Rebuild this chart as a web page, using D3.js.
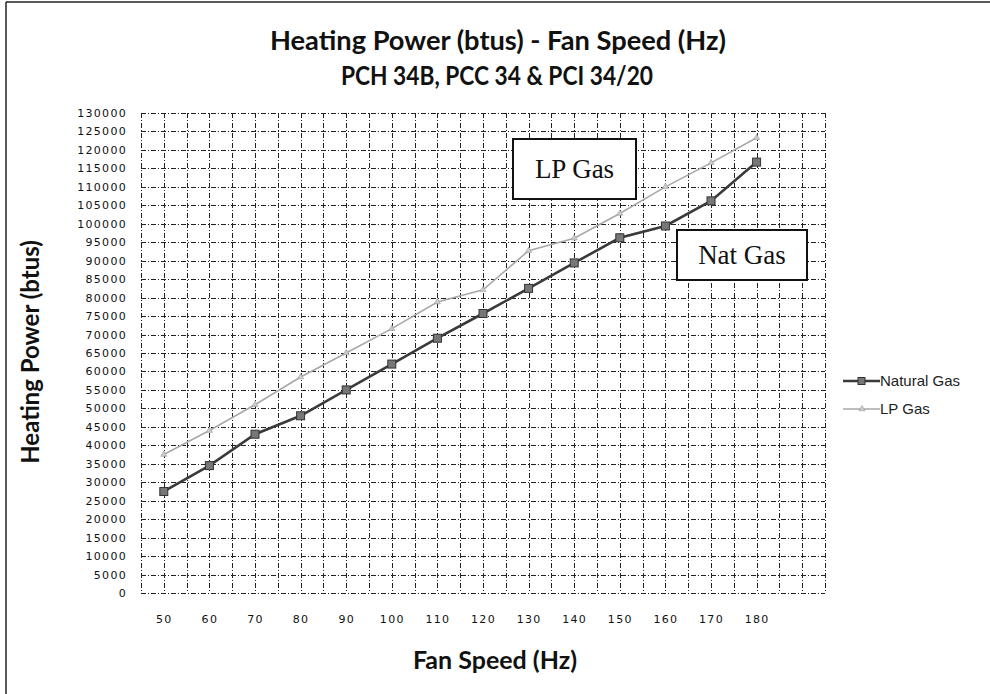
<!DOCTYPE html>
<html>
<head>
<meta charset="utf-8">
<script src="https://cdn.jsdelivr.net/npm/d3@7"></script>
<style>
  html, body { margin: 0; padding: 0; background: #fff; }
  svg { display: block; }
</style>
</head>
<body>
<svg id="chart" width="990" height="694"></svg>
<script>
// Fan speed (Hz) and heating output (btus) for each fuel
const fanSpeed = [50, 60, 70, 80, 90, 100, 110, 120, 130, 140, 150, 160, 170, 180];
const naturalGas = [27500, 34500, 43000, 48000, 55000, 62000, 69000, 75700, 82500, 89400, 96200, 99400, 106200, 116700];
const lpGas = [37500, 44000, 51000, 58500, 65000, 71600, 78800, 82100, 92700, 96100, 102800, 110000, 116500, 123300];
const xTickLabels = [50, 60, 70, 80, 90, 100, 110, 120, 130, 140, 150, 160, 170, 180];
const yTickValues = d3.range(0, 130001, 5000);
const seriesNames = ["Natural Gas", "LP Gas"];

const svg = d3.select("#chart");
const plotLeft = 141, plotRight = 825, plotTop = 113, plotBottom = 593;

const x = d3.scaleLinear().domain([45, 195]).range([plotLeft, plotRight]);
const y = d3.scaleLinear().domain([0, 130000]).range([plotBottom, plotTop]);

// outer frame (top and left edges)
svg.append("line").attr("x1", 6).attr("x2", 990).attr("y1", 2).attr("y2", 2)
  .attr("stroke", "#222").attr("stroke-width", 1.5);
svg.append("line").attr("x1", 6).attr("x2", 6).attr("y1", 2).attr("y2", 694)
  .attr("stroke", "#222").attr("stroke-width", 1.5);

// grid
const grid = svg.append("g").attr("stroke", "#222").attr("stroke-width", 1)
  .attr("stroke-dasharray", "5,2,1,2").attr("fill", "none");
grid.selectAll("line.h").data(yTickValues).join("line").attr("class", "h")
  .attr("x1", plotLeft).attr("x2", plotRight)
  .attr("y1", d => Math.round(y(d)) + 0.5).attr("y2", d => Math.round(y(d)) + 0.5);
grid.selectAll("line.v").data(d3.range(45, 196, 5)).join("line").attr("class", "v")
  .attr("y1", plotTop).attr("y2", plotBottom)
  .attr("x1", d => Math.round(x(d)) + 0.5).attr("x2", d => Math.round(x(d)) + 0.5);

// axes
const yAxis = d3.axisLeft(y).tickValues(yTickValues).tickFormat(d3.format("d"))
  .tickSize(0).tickPadding(14);
const gy = svg.append("g").attr("transform", `translate(${plotLeft},0)`).call(yAxis);
gy.select(".domain").remove();
gy.selectAll("text").attr("font-family", "DejaVu Sans").attr("font-size", 11)
  .attr("letter-spacing", "1.3px").attr("fill", "#111");

const xAxis = d3.axisBottom(x).tickValues(xTickLabels).tickFormat(d3.format("d"))
  .tickSize(0).tickPadding(22);
const gx = svg.append("g").attr("transform", `translate(0,${plotBottom})`).call(xAxis);
gx.select(".domain").remove();
gx.selectAll("text").attr("font-family", "DejaVu Sans").attr("font-size", 11)
  .attr("letter-spacing", "1.3px").attr("fill", "#111");

// series lines
const line = (vals) => d3.line().x((d, i) => x(fanSpeed[i])).y(d => y(d))(vals);

svg.append("path").attr("d", line(lpGas)).attr("fill", "none")
  .attr("stroke", "#a8a8a8").attr("stroke-width", 1.6);
svg.selectAll("path.lpm").data(lpGas).join("path").attr("class", "lpm")
  .attr("d", d3.symbol(d3.symbolTriangle, 16))
  .attr("transform", (d, i) => `translate(${x(fanSpeed[i])},${y(d)})`)
  .attr("fill", "#ccc").attr("stroke", "#999").attr("stroke-width", 0.6);

svg.append("path").attr("d", line(naturalGas)).attr("fill", "none")
  .attr("stroke", "#3a3a3a").attr("stroke-width", 2.6);
svg.selectAll("rect.ngm").data(naturalGas).join("rect").attr("class", "ngm")
  .attr("x", (d, i) => x(fanSpeed[i]) - 4).attr("y", d => y(d) - 4)
  .attr("width", 8).attr("height", 8)
  .attr("fill", "#777").attr("stroke", "#333").attr("stroke-width", 1);

// annotation boxes
function labelBox(cx, cy, w, h, text) {
  svg.append("rect").attr("x", cx - w / 2).attr("y", cy - h / 2)
    .attr("width", w).attr("height", h)
    .attr("fill", "#fff").attr("stroke", "#111").attr("stroke-width", 2);
  svg.append("text").attr("x", cx).attr("y", cy + 9).attr("text-anchor", "middle")
    .attr("font-family", "Liberation Serif").attr("font-size", 27).attr("fill", "#111")
    .text(text);
}
labelBox(574.5, 169, 123, 60, "LP Gas");
labelBox(742, 255, 130, 50, "Nat Gas");

// legend
const lg = svg.append("g").attr("font-family", "Liberation Sans").attr("font-size", 15).attr("fill", "#222");
lg.append("line").attr("x1", 843).attr("x2", 880).attr("y1", 381).attr("y2", 381)
  .attr("stroke", "#3a3a3a").attr("stroke-width", 2.6);
lg.append("rect").attr("x", 858).attr("y", 377.5).attr("width", 7).attr("height", 7)
  .attr("fill", "#777").attr("stroke", "#333");
lg.append("text").attr("x", 880).attr("y", 386).text(seriesNames[0]);
lg.append("line").attr("x1", 843).attr("x2", 880).attr("y1", 409).attr("y2", 409)
  .attr("stroke", "#a8a8a8").attr("stroke-width", 1.6);
lg.append("path").attr("d", d3.symbol(d3.symbolTriangle, 16))
  .attr("transform", "translate(862,409)").attr("fill", "#ccc").attr("stroke", "#999").attr("stroke-width", 0.6);
lg.append("text").attr("x", 880).attr("y", 414).text(seriesNames[1]);

// titles
const tfont = "Lato";
svg.append("text").attr("x", 498).attr("y", 50).attr("text-anchor", "middle")
  .attr("font-family", tfont).attr("font-weight", "bold").attr("font-size", 26).attr("fill", "#111")
  .attr("textLength", 456).attr("lengthAdjust", "spacingAndGlyphs")
  .text("Heating Power (btus) - Fan Speed (Hz)");
svg.append("text").attr("x", 497).attr("y", 85).attr("text-anchor", "middle")
  .attr("font-family", tfont).attr("font-weight", "bold").attr("font-size", 26).attr("fill", "#111")
  .attr("textLength", 312).attr("lengthAdjust", "spacingAndGlyphs")
  .text("PCH 34B, PCC 34 & PCI 34/20");
svg.append("text").attr("x", 495).attr("y", 669).attr("text-anchor", "middle")
  .attr("font-family", tfont).attr("font-weight", "bold").attr("font-size", 25).attr("fill", "#111")
  .text("Fan Speed (Hz)");
svg.append("text").attr("transform", "translate(39,352) rotate(-90)").attr("text-anchor", "middle")
  .attr("font-family", tfont).attr("font-weight", "bold").attr("font-size", 24).attr("fill", "#111")
  .text("Heating Power (btus)");
</script>
</body>
</html>
